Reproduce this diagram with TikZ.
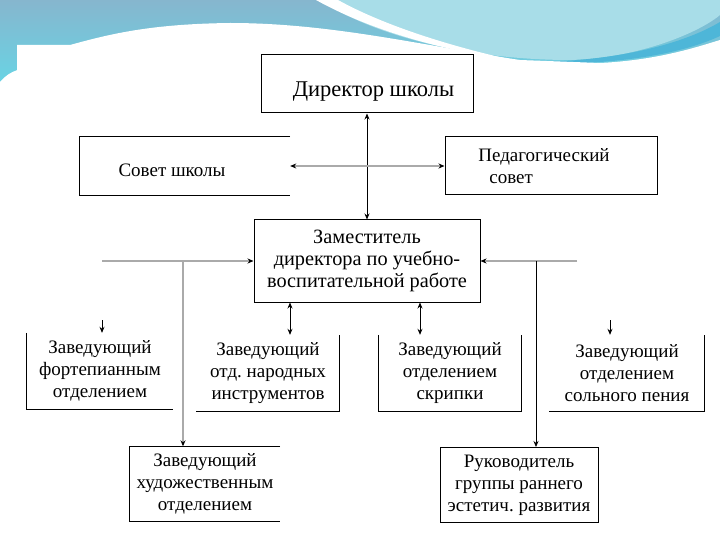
\documentclass[tikz,border=0pt]{standalone}
\usepackage{fontspec}
\setmainfont{Liberation Serif}
\usetikzlibrary{arrows.meta, positioning, calc}
\definecolor{hdrtop}{HTML}{86B6CE}
\definecolor{hdrbot}{HTML}{66D6E6}
\definecolor{hdrlight}{HTML}{A8DDE8}
\definecolor{hdrdeep}{HTML}{4EB6D8}
\definecolor{linkgray}{HTML}{AAAAAA}
\frenchspacing
\tikzset{
  orgBox/.style = {rectangle, inner sep=2pt, align=center,
    font=\fontsize{19}{22}\selectfont},
  fullBox/.style = {orgBox, draw=black, line width=1pt},
  openEdge/.style = {line width=1pt, draw=black},
  link/.style = {-{Stealth[length=6pt, width=5pt]}, line width=0.8pt, draw=black},
  linkBoth/.style = {{Stealth[length=6pt, width=5pt]}-{Stealth[length=6pt, width=5pt]},
    line width=0.8pt, draw=black},
  linkGray/.style = {-{Stealth[length=6pt, width=5pt, color=black]}, line width=1.3pt,
    draw=linkgray},
  linkGrayBoth/.style = {{Stealth[length=6pt, width=5pt, color=black]}-{Stealth[length=6pt, width=5pt, color=black]},
    line width=1.3pt, draw=linkgray},
}

\begin{document}
\begin{tikzpicture}[x=1pt, y=1pt]
\useasboundingbox (0,0) rectangle (720,-540);

% header band
\fill[top color=hdrtop, bottom color=hdrbot] (0,0) rectangle (720,-90);
\fill[hdrlight] (320,0) .. controls (380,-40) and (480,-60) .. (570,-60)
  .. controls (640,-58) and (700,-32) .. (720,-15) -- (720,0) -- cycle;
\fill[hdrdeep] (540,-62) .. controls (630,-60) and (690,-40) .. (720,-22)
  -- (720,-36) .. controls (690,-50) and (640,-62) .. (560,-64) -- cycle;
\fill[white] (316,0) .. controls (370,-30) and (440,-50) .. (512,-60)
  .. controls (450,-46) and (385,-26) .. (338,0) -- cycle;
\fill[white] (17,-540) -- (17,-45) -- (70,-45) .. controls (110,-34) and (150,-24) .. (230,-23)
  .. controls (330,-23) and (420,-45) .. (520,-60) -- (600,-63)
  .. controls (660,-60) and (700,-46) .. (720,-40) -- (720,-540) -- cycle;
\fill[white] (0,-540) -- (0,-82) .. controls (5,-76) and (11,-72) .. (17.5,-70) -- (17.5,-540) -- cycle;

% boxes
\node[fullBox, minimum width=212pt, minimum height=58pt, font=\fontsize{22.5}{26}\selectfont,
  text height=31pt, text depth=5pt] (dir) at (367,-84)
  {\hspace*{13pt}Директор школы};
\node[orgBox, minimum width=210pt, minimum height=58pt, text height=25pt, text depth=4pt] (sovet) at (185,-166)
  {Совет школы\hspace*{26pt}};
\node[fullBox, minimum width=212pt, minimum height=58pt, align=left] (ped) at (551,-166)
  {Педагогический\hspace*{14pt}\\\hspace*{11pt}совет};
\node[fullBox, minimum width=226pt, minimum height=82pt, font=\fontsize{20.3}{22}\selectfont] (zam) at (367,-261)
  {Заместитель\\директора по учебно-\\воспитательной работе};

\node[orgBox, minimum width=146pt, minimum height=76pt] (b1) at (100,-371)
  {Заведующий\\фортепианным\\отделением};
\node[orgBox, minimum width=143pt, minimum height=76pt] (b2) at (268,-373)
  {Заведующий\\отд. народных\\инструментов};
\node[orgBox, minimum width=143pt, minimum height=76pt] (b3) at (450,-373)
  {Заведующий\\отделением\\скрипки};
\node[orgBox, minimum width=155pt, minimum height=76pt] (b4) at (627,-373)
  {Заведующий\\отделением\\сольного пения};

\node[orgBox, minimum width=150pt, minimum height=75pt] (art) at (205,-484)
  {Заведующий\\художественным\\отделением};
\node[fullBox, minimum width=158pt, minimum height=75pt] (ruk) at (519,-485)
  {Руководитель\\группы раннего\\эстетич. развития};

% open box edges
\draw[openEdge] (sovet.north east) -- (sovet.north west) -- (sovet.south west) -- (sovet.south east);
\draw[openEdge] (b1.north west) -- (b1.south west) -- (b1.south east);
\draw[openEdge] (b2.south west) -- (b2.south east) -- (b2.north east);
\draw[openEdge] (b3.north west) -- (b3.south west) -- (b3.south east) -- (b3.north east);
\draw[openEdge] (b4.south west) -- (b4.south east) -- (b4.north east);
\draw[openEdge] (art.north east) -- (art.north west) -- (art.south west) -- (art.south east);

% connector ends
\coordinate (lL) at (102,-261);
\coordinate (lR) at (577,-261);
\coordinate (jL) at (183,-261);
\coordinate (jR) at (536,-261);
\coordinate (tL) at (102,-320);
\coordinate (tR) at (610,-320);
\coordinate (c2) at (290,0);
\coordinate (c3) at (420,0);

% connectors
\draw[linkBoth] (dir.south) -- (zam.north);
\draw[linkGrayBoth] (sovet.east) -- (ped.west);
\draw[linkGray] (lL) -- (zam.west);
\draw[linkGray] (lR) -- (zam.east);
\draw[linkGray] (jL) -- (jL |- art.north);
\draw[link] (jR) -- (jR |- ruk.north);
\draw[link] (tL) -- (tL |- b1.north);
\draw[link] (tR) -- (tR |- b4.north);
\draw[linkBoth] (c2 |- zam.south) -- (c2 |- b2.north);
\draw[linkBoth] (c3 |- zam.south) -- (c3 |- b3.north);

\end{tikzpicture}
\end{document}
